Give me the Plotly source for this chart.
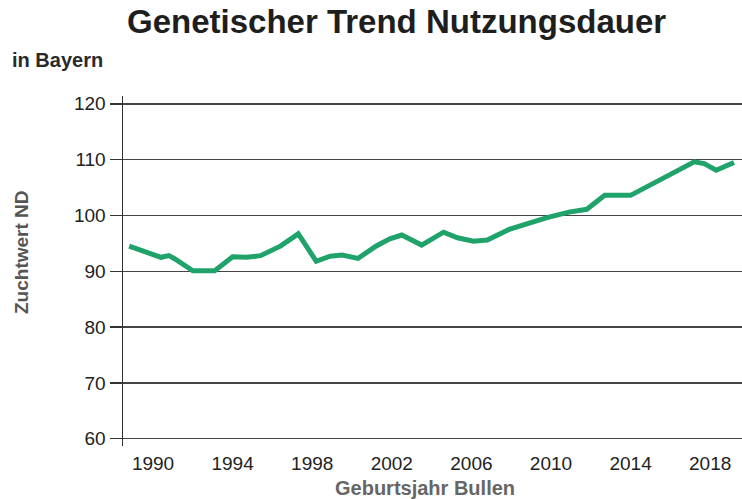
import plotly.graph_objects as go

# Data (year, breeding value)
years = [1988.8, 1990.4, 1990.8, 1991.1, 1992.0, 1993.1, 1994.0, 1994.7, 1995.4,
         1996.4, 1997.3, 1998.2, 1998.9, 1999.5, 2000.3, 2001.2, 2001.9, 2002.5,
         2003.5, 2004.6, 2005.3, 2006.1, 2006.8, 2007.9, 2009.8, 2010.9, 2011.8,
         2012.7, 2014.0, 2017.2, 2017.7, 2018.3, 2019.2]
values = [94.5, 92.5, 92.8, 92.2, 90.1, 90.1, 92.6, 92.5, 92.8,
          94.5, 96.7, 91.8, 92.7, 92.9, 92.3, 94.5, 95.8, 96.5,
          94.7, 97.0, 96.0, 95.4, 95.6, 97.5, 99.6, 100.6, 101.1,
          103.6, 103.6, 109.6, 109.3, 108.1, 109.5]

x_ticks = [1990, 1994, 1998, 2002, 2006, 2010, 2014, 2018]
y_ticks = [60, 70, 80, 90, 100, 110, 120]

title = "Genetischer Trend Nutzungsdauer"
subtitle = "in Bayern"
x_title = "Geburtsjahr Bullen"
y_title = "Zuchtwert ND"

W, H = 742, 499
L, R, T, B = 123, 0, 96, 53
PW, PH = W - L - R, H - T - B


def px(x):
    return (x - L) / PW


def py(y):
    return 1 - (y - T) / PH


fig = go.Figure()
fig.add_trace(go.Scatter(
    x=years, y=values, mode="lines",
    line=dict(color="#1fa36b", width=5),
    hoverinfo="skip",
))

fig.update_layout(
    template="none",
    width=W, height=H,
    margin=dict(l=L, r=R, t=T, b=B, pad=0),
    paper_bgcolor="white", plot_bgcolor="white",
    showlegend=False,
    font=dict(family="Liberation Sans, Arial, sans-serif", color="#222"),
    xaxis=dict(
        automargin=False,
        range=[1988.49, 2019.6],
        tickvals=x_ticks,
        ticktext=[str(v) for v in x_ticks],
        showgrid=False, zeroline=False, showline=False, ticks="",
        tickfont=dict(size=19, color="#222"),
        ticklabelstandoff=4,
    ),
    yaxis=dict(
        automargin=False,
        range=[58.7, 121.4],
        tickvals=y_ticks,
        showgrid=True, gridcolor="#444", gridwidth=1.5,
        zeroline=False,
        showline=True, linecolor="#333", linewidth=1.5,
        ticks="outside", ticklen=12, tickcolor="#333", tickwidth=1.5,
        tickfont=dict(size=19, color="#222"),
    ),
    annotations=[
        dict(text="<b>" + title + "</b>", x=px(396), y=py(22), xanchor="center",
             font=dict(size=33, color="#1e1e1e")),
        dict(text="<b>" + subtitle + "</b>", x=px(10), y=py(60), xanchor="left",
             font=dict(size=20, color="#2a2a2a")),
        dict(text="<b>" + x_title + "</b>", x=px(425), y=py(488), xanchor="center",
             font=dict(size=20, color="#666")),
        dict(text="<b>" + y_title + "</b>", x=px(21), y=py(252), xanchor="center",
             textangle=-90, font=dict(size=19, color="#555")),
    ],
)
for a in fig.layout.annotations:
    a.update(xref="paper", yref="paper", showarrow=False, yanchor="middle")

fig.write_html(
    "out.html",
    config={"displayModeBar": False, "staticPlot": True},
    post_script="document.body.style.margin='0';document.body.style.padding='0';",
)
